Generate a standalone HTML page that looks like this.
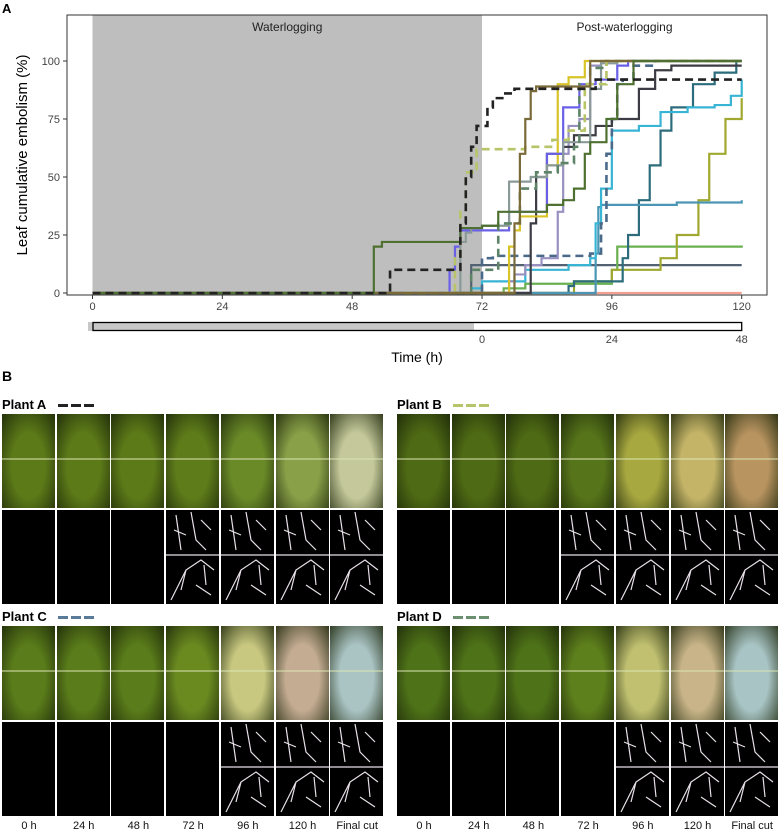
<!DOCTYPE html>
<html><head><meta charset="utf-8"><style>
body{margin:0;width:780px;height:834px;background:#fff;font-family:"Liberation Sans",sans-serif;position:relative;overflow:hidden}
.lab{position:absolute;font-size:13px;color:#000}
.cell{position:absolute;width:53px;height:94px}
.mask{background:#000}
.tl{position:absolute;font-size:11px;color:#111;text-align:center;width:54px;top:820px}
</style></head><body>
<svg id="chart" width="780" height="370" style="position:absolute;left:0;top:0" font-family="Liberation Sans, sans-serif"></svg>
<div id="panelB"></div>
<script>
const NS="http://www.w3.org/2000/svg";
const svg=document.getElementById('chart');
const xTicks=[0,24,48,72,96,120];
const yTicks=[0,25,50,75,100];
const postTicks=[0,24,48];
const seriesNames=["plant-a","dark-green","olive-brown","plant-b","plant-d","gray","blue","yellow","charcoal","lavender","plant-c","cyan","steel-teal","dark-teal","olive-yellow","green","slate","salmon"];
const seriesColors=["#222","#4e7030","#7a6a3a","#b8c468","#5e8468","#8a9a98","#6a60e8","#d8c428","#3c3c44","#9890c0","#4a6a8a","#38b4d4","#4a96b4","#2c6c7c","#a0a830","#6ab050","#536272","#f4a090"];
const seriesDash=[true,false,false,true,true,false,false,false,false,false,true,false,false,false,false,false,false,false];
const seriesT=[
[0,55,67,68,69,70,71,73,74,76,78,92,93,120],
[0,52,53.5,67,68,72,75,84,87,89,91,92,95,97,100,120],
[0,78,79,80,81,82,84,91,92,120],
[0,67,68,69,71,73,80,85,88,91,95,120],
[0,70,72,75,79,82,86,89,90,92,95,120],
[0,68,69,70,72,77,81,84,87,92,94,97,120],
[0,66,67,68,70,73,77,80,84,87,90,93,97,99,120],
[0,77,78,79,84,86,88,91,95,120],
[0,81,82,84,87,89,93,96,101,104,107,110,120],
[0,77,78,80,83,86,87,88,90,92,94,100,120],
[0,72,74,80,92,94,95,96,97,98,100,104,120],
[0,70,72,80,88,92,93,94,96,101,105,110,115,118,120],
[0,93,93.5,94,99,108,120],
[0,88,89,96,98,99,101,103,105,107,111,115,119,120],
[0,89,90,96,105,108,112,114,117,120],
[0,76,80,88,96,97,120],
[0,70,71,120],
[0,120]];
const seriesV=[
[0,10,10,30,50,63,72,80,84,86,88,88,92,92],
[0,20,22,22,28,29,35,38,40,45,60,65,75,90,100,100],
[0,30,60,75,87,89,89,89,100,100],
[0,15,35,52,62,62,63,66,70,90,100,100],
[0,10,10,30,45,52,56,63,90,97,100,100],
[0,22,26,28,29,48,50,55,65,88,99,100,100],
[0,10,20,27,27,27,35,35,60,80,90,92,98,100,100],
[0,20,27,33,55,90,93,100,100,100],
[0,30,50,60,63,68,72,75,88,96,98,98,98],
[0,5,8,12,15,35,60,72,75,98,100,100,100],
[0,15,16,16,17,30,60,75,90,92,98,100,100],
[0,2,5,10,12,15,30,45,70,72,78,80,81,85,92],
[0,17,37,38,38,39,40],
[0,3,5,5,15,25,40,55,70,80,90,95,100,100],
[0,5,5,10,15,25,40,60,75,84],
[0,2,4,4,10,20,20.5],
[0,12,12,12],
[0,0]];
const X=t=>92.5+t*5.41, Y=v=>293-v*2.32;
function el(tag,attrs,parent){const e=document.createElementNS(NS,tag);for(const k in attrs)e.setAttribute(k,attrs[k]);(parent||svg).appendChild(e);return e;}
let t;
t=el('text',{x:2,y:13,'font-size':13,'font-weight':'bold'});t.textContent='A';


let r=el('rect',{x:67,y:15,width:700,height:280,fill:'#fff',stroke:'#333','stroke-width':1});


r=el('rect',{x:X(0),y:15.5,width:X(72)-X(0),height:278,fill:'#bebebe'});


t=el('text',{x:(X(0)+X(72))/2,y:31,'font-size':12,'text-anchor':'middle',fill:'#222'});t.textContent='Waterlogging';


t=el('text',{x:(X(72)+767)/2,y:31,'font-size':12,'text-anchor':'middle',fill:'#222'});t.textContent='Post-waterlogging';


for(let i=seriesT.length-1;i>=0;i--){
  let d='M'+X(seriesT[i][0])+','+Y(seriesV[i][0]);
  for(let j=1;j<seriesT[i].length;j++){d+='H'+X(seriesT[i][j])+'V'+Y(seriesV[i][j]);}
  const p=el('path',{d:d,fill:'none',stroke:seriesColors[i],'stroke-width':seriesDash[i]?2.6:2.2,'stroke-dasharray':seriesDash[i]?'8,5':'none'});
  
  
}
xTicks.forEach(v=>{el('line',{x1:X(v),x2:X(v),y1:295,y2:299,stroke:'#333'});
  const tx=el('text',{x:X(v),y:310,'font-size':11,'text-anchor':'middle',fill:'#444'});tx.textContent=v;
  
  });
yTicks.forEach(v=>{el('line',{x1:63,x2:67,y1:Y(v),y2:Y(v),stroke:'#333'});
  const tx=el('text',{x:60,y:Y(v)+4,'font-size':11,'text-anchor':'end',fill:'#444'});tx.textContent=v;
  
  });
t=el('text',{x:0,y:0,'font-size':15,'text-anchor':'middle',transform:'translate(27,155) rotate(-90)'});t.textContent='Leaf cumulative embolism (%)';


r=el('rect',{x:88,y:322,width:386,height:9,fill:'#c8c8c8'});


r=el('rect',{x:93,y:322.5,width:X(120)-93,height:8,fill:'none',stroke:'#000','stroke-width':1.3});


postTicks.forEach(v=>{const tx=el('text',{x:X(72+v),y:343,'font-size':11,'text-anchor':'middle',fill:'#444'});tx.textContent=v;
  
  });
t=el('text',{x:417,y:362,'font-size':14,'text-anchor':'middle'});t.textContent='Time (h)';



// Panel B
const pb=document.getElementById('panelB');
const plants=[
 {n:'Plant A',x:2,y:414,dash:'#222',cols:['#5c7a18','#5c7a18','#5c7a18','#5e7c1a','#6a8a28','#8aa048','#c4c89a'],masks:[0,0,0,1,1,1,1]},
 {n:'Plant B',x:397,y:414,dash:'#b8c468',cols:['#4e6a14','#4e6a14','#4e6a14','#56741a','#a8a840','#c4b468','#b89460'],masks:[0,0,0,1,1,1,1]},
 {n:'Plant C',x:2,y:626,dash:'#5a7a9a',cols:['#5a7c1a','#5a7c1a','#5a7c1a','#6a8a20','#c8c880','#c4ac92','#aac4c4'],masks:[0,0,0,0,1,1,1]},
 {n:'Plant D',x:397,y:626,dash:'#6a9070',cols:['#4e7218','#4e7218','#4e7218','#5e801c','#c0c070','#c8b488','#a8c4c4'],masks:[0,0,0,0,1,1,1]}];
const bl=document.createElement('div');bl.className='lab';bl.style.cssText='left:2px;top:368px;font-weight:bold;font-size:14px';bl.textContent='B';


pb.appendChild(bl);
plants.forEach((p,pi)=>{
  const l=document.createElement('div');l.className='lab';l.style.cssText=`left:${p.x}px;top:${p.y-17}px;font-weight:bold;font-size:13px`;l.textContent=p.n;
  
  
  pb.appendChild(l);
  const dsh=document.createElement('div');dsh.style.cssText=`position:absolute;left:${p.x+56}px;top:${p.y-10}px;width:36px;height:3px;background:repeating-linear-gradient(90deg,${p.dash} 0 10px,transparent 10px 13px)`;
  
  
  pb.appendChild(dsh);
  for(let c=0;c<7;c++){
    const x=p.x+c*54.7;
    const ph=document.createElement('div');ph.className='cell';
    ph.style.cssText=`left:${x}px;top:${p.y}px;background:radial-gradient(ellipse at 50% 55%,${p.cols[c]} 0%,${p.cols[c]} 45%,#1a2408 110%)`;
    ph.innerHTML='<div style="position:absolute;left:0;right:0;top:44px;height:2px;background:rgba(220,230,180,0.5)"></div>';
    
    
    pb.appendChild(ph);
    const m=document.createElement('div');m.className='cell mask';
    m.style.cssText=`left:${x}px;top:${p.y+96}px`;
    if(p.masks[c]){m.innerHTML='<svg width="53" height="94"><g stroke="#e8e0e8" stroke-width="1.2" fill="none"><path d="M0,45H53"/><path d="M10,5L15,40M25,2L30,30L40,40M8,20L20,25M35,10L45,20M5,90L20,60L35,50L48,60M20,60L15,80M30,75L45,85M38,55L40,75"/></g></svg>';}
    
    
    pb.appendChild(m);
    if(pi>=2){const tl=document.createElement('div');tl.className='tl';tl.style.left=x+'px';
      tl.textContent=['0 h','24 h','48 h','72 h','96 h','120 h','Final cut'][c];
      
      
      pb.appendChild(tl);}
  }
});
</script>
</body></html>
